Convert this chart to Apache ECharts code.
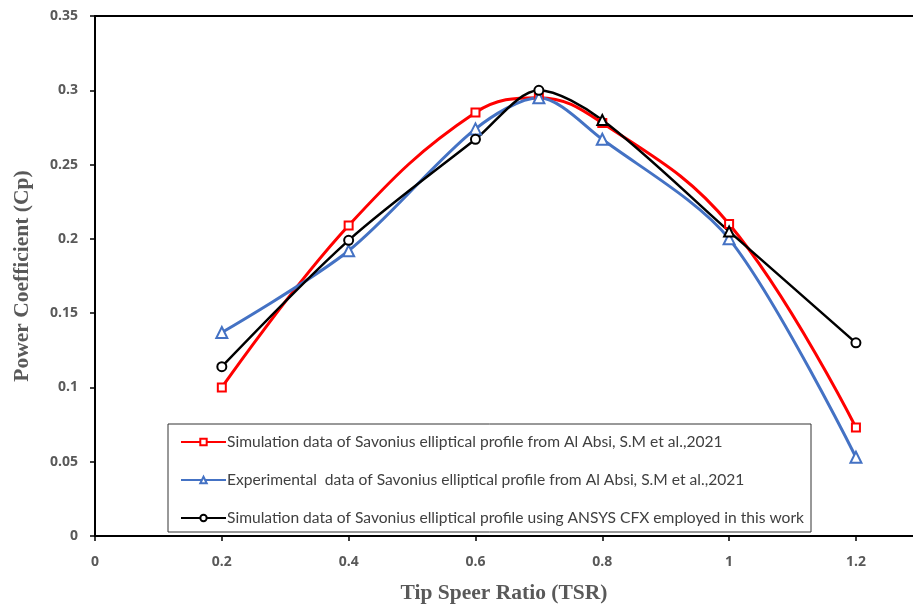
<!DOCTYPE html>
<html>
<head>
<meta charset="utf-8">
<script src="https://cdn.jsdelivr.net/npm/echarts@6/dist/echarts.min.js"></script>
<style>html,body{margin:0;padding:0;background:#fff;}#c{width:913px;height:608px;}</style>
</head>
<body>
<div id="c"></div>
<script>
var tsr = [0.2, 0.4, 0.6, 0.7, 0.8, 1.0, 1.2];
var simAlAbsi = [0.100, 0.209, 0.285, 0.295, 0.278, 0.210, 0.073];
var expAlAbsi = [0.137, 0.192, 0.274, 0.295, 0.267, 0.200, 0.053];
var cfxWork = [0.114, 0.199, 0.267, 0.300, 0.280, 0.205, 0.130];
var seriesNames = [
  'Simulation data of Savonius elliptical profile from Al Absi, S.M et al.,2021',
  'Experimental  data of Savonius elliptical profile from Al Absi, S.M et al.,2021',
  'Simulation data of Savonius elliptical profile using ANSYS CFX employed in this work'
];
var xTitle = 'Tip Speer Ratio (TSR)';
var yTitle = 'Power Coefficient (Cp)';

function pairs(ys) { return tsr.map(function (x, i) { return [x, ys[i]]; }); }

var cfxData = pairs(cfxWork).map(function (p, i) {
  // in the reference, the points at 0.8 and 1.0 show triangle markers
  if (tsr[i] === 0.8 || tsr[i] === 1.0) return { value: p, symbol: 'emptyTriangle', symbolSize: 10 };
  return p;
});

var chart = echarts.init(document.getElementById('c'));
var labelStyle = { color: '#595959', fontWeight: 'bold', fontSize: 14, fontFamily: 'Open Sans' };
chart.setOption({
  animation: false,
  backgroundColor: '#fff',
  grid: { left: 95, right: 0, top: 16, bottom: 72, containLabel: false, outerBoundsMode: 'none' },
  legend: {
    orient: 'vertical',
    left: 168, top: 424,
    padding: [10, 7, 6, 12],
    itemGap: 22,
    itemWidth: 45, itemHeight: 8,
    backgroundColor: '#fff',
    borderColor: '#333',
    borderWidth: 1,
    textStyle: { color: '#404040', fontSize: 15.6, fontFamily: 'Lato', padding: [0, 0, 0, -4] },
    data: seriesNames
  },
  xAxis: [{
    type: 'value', min: 0, max: 1.29, interval: 0.2,
    axisLine: { lineStyle: { color: '#000', width: 2 } },
    axisTick: { show: true, length: 5, lineStyle: { color: '#000', width: 1.5 } },
    splitLine: { show: false },
    axisLabel: Object.assign({ margin: 19, showMaxLabel: false, formatter: function (v) { return String(+v.toFixed(1)); } }, labelStyle),
    name: xTitle, nameLocation: 'middle', nameGap: 46,
    nameTextStyle: { color: '#595959', fontWeight: 'bold', fontSize: 21.5, fontFamily: 'Liberation Serif' }
  }, {
    type: 'value', min: 0, max: 1.29, position: 'top',
    axisLine: { show: true, lineStyle: { color: '#000', width: 2 } },
    axisTick: { show: false }, axisLabel: { show: false }, splitLine: { show: false }
  }],
  yAxis: {
    type: 'value', min: 0, max: 0.35, interval: 0.05,
    axisLine: { show: true, lineStyle: { color: '#000', width: 2 } },
    axisTick: { show: true, length: 5, lineStyle: { color: '#000', width: 1.5 } },
    splitLine: { show: false },
    axisLabel: Object.assign({ margin: 17, formatter: function (v) { return String(+v.toFixed(2)); } }, labelStyle),
    name: yTitle, nameLocation: 'middle', nameGap: 62,
    nameTextStyle: { color: '#595959', fontWeight: 'bold', fontSize: 21.5, fontFamily: 'Liberation Serif' }
  },
  series: [{
    name: seriesNames[0], type: 'line', smooth: 0.4,
    data: pairs(simAlAbsi),
    symbol: 'emptyRect', symbolSize: 8,
    lineStyle: { color: '#FF0000', width: 3 },
    itemStyle: { color: '#FF0000', borderWidth: 1.5 }
  }, {
    name: seriesNames[1], type: 'line', smooth: 0.3,
    data: pairs(expAlAbsi),
    symbol: 'emptyTriangle', symbolSize: 11,
    lineStyle: { color: '#4472C4', width: 3 },
    itemStyle: { color: '#4472C4', borderWidth: 1.5 }
  }, {
    name: seriesNames[2], type: 'line', smooth: 0.3,
    data: cfxData,
    symbol: 'emptyCircle', symbolSize: 9,
    lineStyle: { color: '#000000', width: 2.5 },
    itemStyle: { color: '#000000', borderWidth: 1.5 }
  }]
});
</script>
</body>
</html>
